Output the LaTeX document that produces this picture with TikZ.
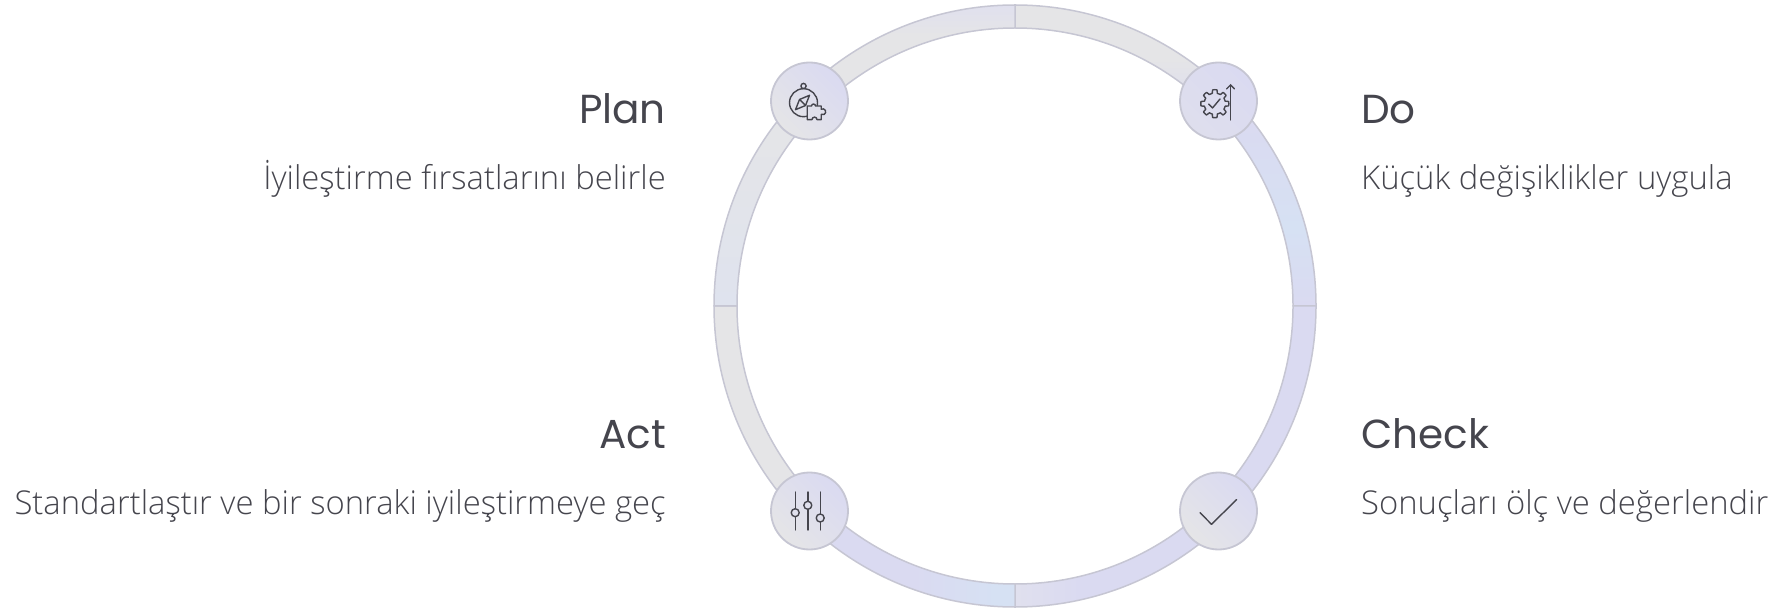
\documentclass[tikz,border=0pt]{standalone}
\usepackage{fontspec}
\usepackage{xcolor}
\usetikzlibrary{arrows,calc}
\setmainfont{Open Sans Light}
\newfontfamily\titlefont{Poppins}
\definecolor{ink}{HTML}{45454D}
\definecolor{rim}{HTML}{C6C6D3}
\definecolor{pale}{HTML}{E5E5E7}
\definecolor{lav}{HTML}{DADAF1}
\definecolor{sky}{HTML}{D6E1F3}
\definecolor{haze}{HTML}{E0E0EE}
\definecolor{mist}{HTML}{DFE3EE}
\pgfdeclareverticalshading{doshade}{100bp}{color(0bp)=(lav);color(25bp)=(lav);color(38bp)=(sky);color(56bp)=(lav);color(66bp)=(pale);color(100bp)=(pale)}
\pgfdeclarehorizontalshading{checkshade}{100bp}{color(0bp)=(haze);color(25bp)=(haze);color(36bp)=(lav);color(100bp)=(lav)}
\pgfdeclarehorizontalshading{actshade}{100bp}{color(0bp)=(pale);color(39bp)=(pale);color(45bp)=(lav);color(58bp)=(lav);color(72bp)=(sky);color(100bp)=(sky)}
\pgfdeclareverticalshading{planshade}{100bp}{color(0bp)=(mist);color(25bp)=(mist);color(58bp)=(pale);color(70bp)=(pale);color(75bp)=(haze);color(100bp)=(haze)}
\tikzset{
	ring/.style={draw=rim,line width=1.5pt},
	badge/.style={circle,draw=rim,line width=1.8pt,minimum size=77pt,inner sep=0pt},
	title/.style={font=\titlefont\fontsize{40.5}{44}\selectfont,text=ink,inner sep=0pt},
	note/.style={font=\fontsize{32.8}{38}\selectfont,text=ink,inner sep=0pt},
	icon/.style={draw=ink,line width=1.4pt,line cap=round,line join=round}
}
\begin{document}
\begin{tikzpicture}[x=1pt,y=1pt]
		\useasboundingbox (0,0) rectangle (1782,608);
		\coordinate (O) at (1015,302);
		% ring quadrants
		\path[ring,shade,shading=doshade]
		(O) ++(90:301) arc (90:0:301) -- ++(-23,0) arc (0:90:278) -- cycle;
		\path[ring,shade,shading=checkshade]
		(O) ++(0:301) arc (0:-90:301) -- ++(0,23) arc (-90:0:278) -- cycle;
		\path[ring,shade,shading=actshade]
		(O) ++(-90:301) arc (-90:-180:301) -- ++(23,0) arc (180:270:278) -- cycle;
		\path[ring,shade,shading=planshade]
		(O) ++(180:301) arc (180:90:301) -- ++(0,-23) arc (90:180:278) -- cycle;
		% badges
		\node[badge,top color=lav,bottom color=pale,shading angle=-45] (planbadge) at ($(O)+(-205.5,205)$) {};
		\node[badge,top color=lav,bottom color=pale!40!lav,shading angle=-45] (dobadge) at ($(O)+(203.5,205)$) {};
		\node[badge,top color=lav,bottom color=pale,shading angle=-45] (actbadge) at ($(O)+(-205.5,-205)$) {};
		\node[badge,top color=lav,bottom color=pale,shading angle=-45] (checkbadge) at ($(O)+(203.5,-205)$) {};
		% labels
		\node[title,anchor=base east] (plantitle) at (666,484) {Plan};
		\node[note,anchor=base east] (plannote) at (666,418) {İyileştirme fırsatlarını belirle};
		\node[title,anchor=base west] (dotitle) at (1361,484) {Do};
		\node[note,anchor=base west] (donote) at (1361,418) {Küçük değişiklikler uygula};
		\node[title,anchor=base east] (acttitle) at (666,160) {Act};
		\node[note,anchor=base east] (actnote) at (666,94) {Standartlaştır ve bir sonraki iyileştirmeye geç};
		\node[title,anchor=base west] (checktitle) at (1361,160) {Check};
		\node[note,anchor=base west] (checknote) at (1361,94) {Sonuçları ölç ve değerlendir};
		% plan icon
		\begin{scope}[shift={(planbadge.center)}]
			\draw[icon] (-6,-1.7) circle (14);
			\draw[icon] (-6,15) circle (2.6);
			\draw[icon] (0,5.7) -- (-10,1.5) -- (-14,-8.7) -- (-4,-4.5) -- cycle;
			\draw[icon] (-10,1.5) -- (-4,-4.5);
			\draw[icon,fill=pale!55!lav] (-2.3,-5) -- (2,-5) arc (180:0:2) -- (11.7,-5) -- (11.7,-8.2) arc (120:-120:3) -- (11.7,-18.6) -- (7.5,-18.6) arc (0:180:2.5) -- (-2.3,-18.6) -- cycle;
		\end{scope}
		% do icon
		\begin{scope}[shift={(dobadge.center)}]
			\draw[icon,shift={(-3.7,-2.7)}] plot[domain=0:360,samples=161] (\x:{12.3+1.7*max(min(3*cos(8*\x),1),-1)}) -- cycle;
			\draw[icon] (-10,-3) -- (-6,-7) -- (1.5,2);
			\draw[icon,->,>=angle 90] (12,-19) -- (12,17);
		\end{scope}
		% act icon
		\begin{scope}[shift={(actbadge.center)}]
			\foreach \dx/\dy in {-14.3/-1.7,-1.7/5.7,10.7/-7} {
				\draw[icon] (\dx,19) -- (\dx,-19);
				\draw[icon,fill=pale!50!lav] (\dx,\dy) circle (4);
			}
		\end{scope}
		% check icon
		\begin{scope}[shift={(checkbadge.center)}]
			\draw[icon] (-18.5,-1.7) -- (-7,-13.3) -- (18,11.3);
		\end{scope}
	\end{tikzpicture}
\end{document}
